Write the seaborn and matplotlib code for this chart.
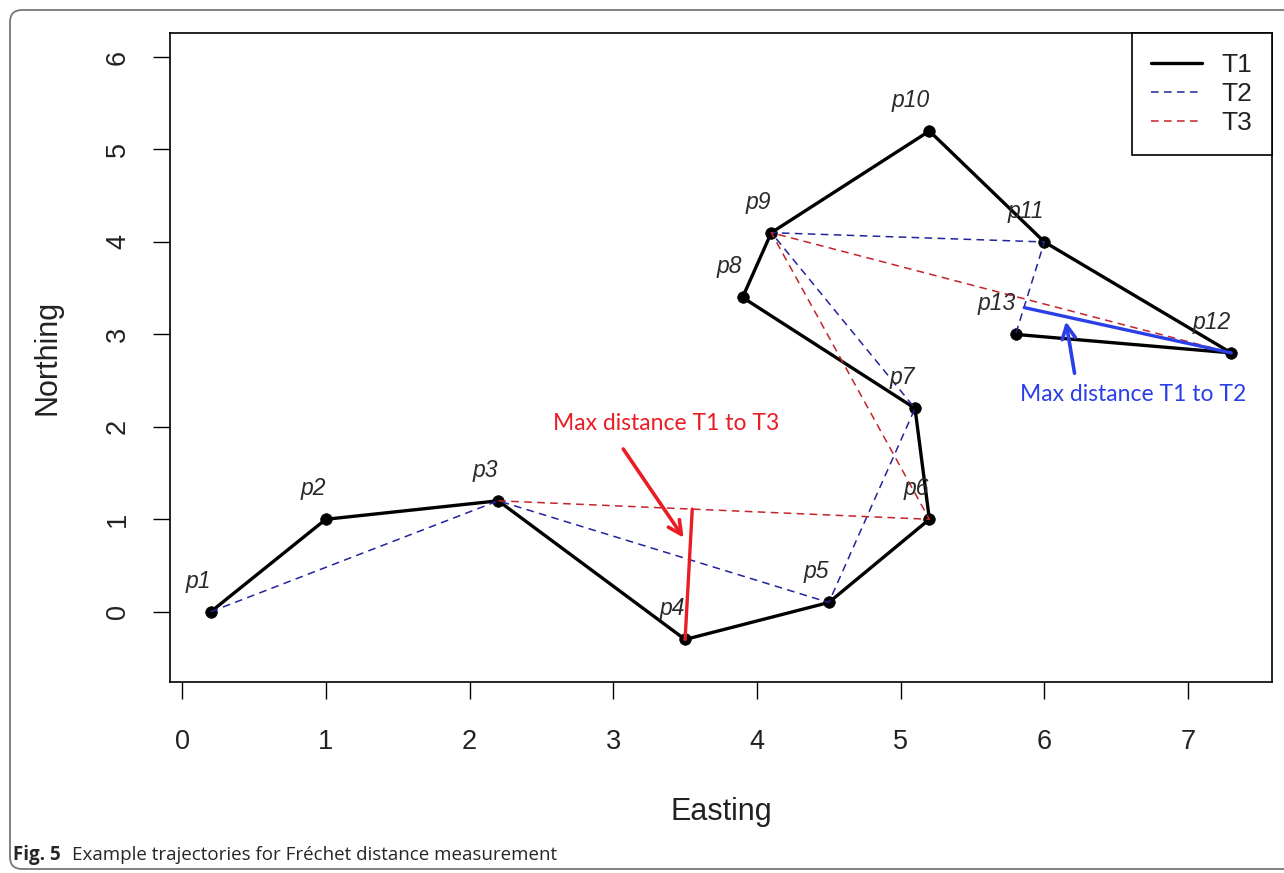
import matplotlib
matplotlib.use("Agg")
import matplotlib.pyplot as plt
import matplotlib.transforms as mtransforms
from matplotlib.patches import FancyBboxPatch
import seaborn as sns
import pandas as pd

# ---------------- data ----------------
point_labels = ["p1", "p2", "p3", "p4", "p5", "p6", "p7", "p8", "p9", "p10", "p11", "p12", "p13"]
t1_x = [0.2, 1.0, 2.2, 3.5, 4.5, 5.2, 5.1, 3.9, 4.1, 5.2, 6.0, 7.3, 5.8]
t1_y = [0.0, 1.0, 1.2, -0.3, 0.1, 1.0, 2.2, 3.4, 4.1, 5.2, 4.0, 2.8, 3.0]

t2_x = [0.2, 2.2, 4.5, 5.1, 4.1, 6.0, 5.8]
t2_y = [0.0, 1.2, 0.1, 2.2, 4.1, 4.0, 3.0]

t3_x = [2.2, 5.2, 4.1, 7.3]
t3_y = [1.2, 1.0, 4.1, 2.8]

maxd13_x = [3.5, 3.55]
maxd13_y = [-0.3, 1.11]
maxd12_x = [5.86, 7.3]
maxd12_y = [3.29, 2.8]

arrow13_tail = (3.07, 1.76)
arrow13_head = (3.49, 0.80)
arrow12_tail = (6.21, 2.58)
arrow12_head = (6.15, 3.14)

note13_text = "Max distance T1 to T3"
note13_pos = (3.37, 2.04)
note12_text = "Max distance T1 to T2"
note12_pos = (6.62, 2.35)

x_ticks = [0, 1, 2, 3, 4, 5, 6, 7]
y_ticks = [0, 1, 2, 3, 4, 5, 6]
x_label = "Easting"
y_label = "Northing"
legend_labels = ["T1", "T2", "T3"]
caption_bold = "Fig. 5"
caption_text = "Example trajectories for Fréchet distance measurement"

# ---------------- style ----------------
sns.set_theme(style="white")
plt.rcParams["font.family"] = ["Liberation Sans", "DejaVu Sans"]

W, H = 1284, 873
fig = plt.figure(figsize=(W / 100, H / 100), dpi=100)
fig.patch.set_facecolor("white")
ax = fig.add_axes([170 / W, 1 - 682 / H, (1272 - 170) / W, (682 - 33) / H])
ax.set_facecolor("white")

BLUE_D = "#23239c"
RED_D = "#c4242c"
RED = "#ea1c24"
BLUE = "#2b3fe6"

df1 = pd.DataFrame({"x": t1_x, "y": t1_y})
df2 = pd.DataFrame({"x": t2_x, "y": t2_y})
df3 = pd.DataFrame({"x": t3_x, "y": t3_y})

sns.lineplot(data=df1, x="x", y="y", sort=False, estimator=None, color="black",
             lw=2.4, ax=ax, zorder=2)
sns.scatterplot(data=df1, x="x", y="y", color="black", s=70, edgecolor="black",
                linewidth=0.5, ax=ax, zorder=3)
sns.lineplot(data=df2, x="x", y="y", sort=False, estimator=None, color=BLUE_D,
             lw=1.1, dashes=False, ax=ax, zorder=4)
sns.lineplot(data=df3, x="x", y="y", sort=False, estimator=None, color=RED_D,
             lw=1.1, dashes=False, ax=ax, zorder=4)
lines = ax.get_lines()
lines[1].set_dashes([5, 3.5])
lines[2].set_dashes([5, 3.5])

# max distance segments
sns.lineplot(x=maxd13_x, y=maxd13_y, sort=False, estimator=None, color=RED, lw=2.4, ax=ax, zorder=5)
sns.lineplot(x=maxd12_x, y=maxd12_y, sort=False, estimator=None, color=BLUE, lw=2.4, ax=ax, zorder=5)

# arrows
ax.annotate("", xy=arrow13_head, xytext=arrow13_tail,
            arrowprops=dict(arrowstyle="->", color=RED, lw=2.6, mutation_scale=24,
                            shrinkA=0, shrinkB=0), zorder=6)
ax.annotate("", xy=arrow12_head, xytext=arrow12_tail,
            arrowprops=dict(arrowstyle="->", color=BLUE, lw=2.6, mutation_scale=24,
                            shrinkA=0, shrinkB=0), zorder=6)

ax.text(*note13_pos, note13_text, color=RED, fontsize=16.5, family=["Lato", "DejaVu Sans"],
        ha="center", va="center", zorder=7)
ax.text(*note12_pos, note12_text, color=BLUE, fontsize=16.5, family=["Lato", "DejaVu Sans"],
        ha="center", va="center", zorder=7)

# point labels
for lab, px, py in zip(point_labels, t1_x, t1_y):
    ax.annotate(lab, xy=(px, py), xytext=(0, 22), textcoords="offset points",
                ha="right", va="center", fontsize=16.5, style="italic", color="#2a2a2a", zorder=7)

# axes
ax.set_xlim(-0.084, 7.584)
ax.set_ylim(-0.76, 6.26)
ax.set_xticks(x_ticks)
ax.set_yticks(y_ticks)
ax.set_xticklabels([str(v) for v in x_ticks])
ax.set_yticklabels([str(v) for v in y_ticks], rotation=90, va="center")
ax.tick_params(axis="both", which="major", direction="out", length=12, width=1.0,
               color="black", labelsize=19.5, labelcolor="#222222",
               bottom=True, left=True)
ax.tick_params(axis="x", pad=22)
ax.tick_params(axis="y", pad=16)
for sp in ax.spines.values():
    sp.set_visible(True)
    sp.set_color("black")
    sp.set_linewidth(1.2)
ax.set_xlabel(x_label, fontsize=22, color="#222222", labelpad=30)
ax.set_ylabel(y_label, fontsize=22, color="#222222", labelpad=31)
ax.grid(False)

# legend
leg = ax.legend(handles=lines[0:3], labels=legend_labels, loc="upper right",
                borderaxespad=0, frameon=True, fancybox=False, edgecolor="black",
                fontsize=19, handlelength=1.9, handletextpad=0.75, borderpad=0.75,
                labelspacing=0.2, framealpha=1)
leg.get_frame().set_linewidth(1.2)
for t in leg.get_texts():
    t.set_color("#222222")

# figure frame and caption
frame = FancyBboxPatch((10, 4), 1320, 859, boxstyle="round,pad=0,rounding_size=12",
                       transform=mtransforms.IdentityTransform(), fill=False,
                       ec="#777777", lw=1.3)
fig.add_artist(frame)
fig.text(13 / W, 1 - 855 / H, caption_bold, fontsize=13.5, fontweight="bold",
         family=["Open Sans", "DejaVu Sans"], va="center", ha="left")
fig.text(72 / W, 1 - 855 / H, caption_text, fontsize=13.5,
         family=["Open Sans", "DejaVu Sans"], va="center", ha="left")

fig.savefig("out.png", dpi=100)
